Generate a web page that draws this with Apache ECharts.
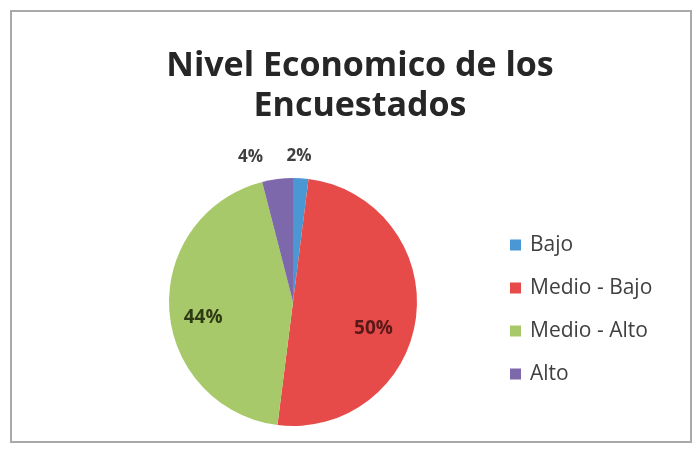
<!DOCTYPE html>
<html>
<head>
<meta charset="utf-8">
<script src="https://cdn.jsdelivr.net/npm/echarts@6/dist/echarts.min.js"></script>
<style>
  html, body { margin: 0; padding: 0; background: #ffffff; }
  #chart { width: 694px; height: 449px; }
</style>
</head>
<body>
<div id="chart"></div>
<script>
// Nivel económico de los encuestados (porcentaje por categoría)
const categories = ['Bajo', 'Medio - Bajo', 'Medio - Alto', 'Alto'];
const percentages = [2, 50, 44, 4];
const sliceColors = ['#4b97d4', '#e64b4a', '#a7c96a', '#7c68aa'];
const labelColors = ['#3f3f3f', '#5a1818', '#2e3a14', '#3f3f3f'];

// Small nudges so each percentage sits where the spreadsheet-style layout puts it
const labelNudges = [[-20, -10], [16, 18], [-25, 12], [-8, -10]];

const chart = echarts.init(document.getElementById('chart'), null, { renderer: 'canvas' });

const FONT = '"Open Sans", Lato, sans-serif';

chart.setOption({
  animation: false,
  backgroundColor: '#ffffff',
  graphic: [{
    type: 'rect',
    shape: { x: 11, y: 11, width: 680, height: 431 },
    style: { fill: 'none', stroke: '#a9a9a9', lineWidth: 2 },
    silent: true
  }],
  title: {
    text: 'Nivel Economico de los\nEncuestados',
    left: 355,
    top: 41,
    textAlign: 'center',
    textStyle: {
      fontFamily: FONT,
      fontWeight: 'bold',
      fontSize: 34,
      lineHeight: 40,
      color: '#262626'
    }
  },
  legend: {
    orient: 'vertical',
    left: 510,
    top: 234,
    padding: 0,
    icon: 'rect',
    itemWidth: 11,
    itemHeight: 11,
    itemGap: 21,
    data: categories,
    textStyle: {
      fontFamily: FONT,
      fontSize: 21,
      lineHeight: 22,
      padding: [0, 0, 0, 4],
      color: '#404040'
    }
  },
  series: [{
    type: 'pie',
    center: [293, 302],
    radius: 124,
    startAngle: 90,
    clockwise: true,
    avoidLabelOverlap: false,
    data: categories.map((name, i) => ({
      name,
      value: percentages[i],
      itemStyle: { color: sliceColors[i] },
      label: {
        position: (i === 0 || i === 3) ? 'outside' : 'inside',
        fontSize: (i === 0 || i === 3) ? 17 : 19,
        color: labelColors[i]
      },
      labelLine: { show: false, length: 12, length2: 0 }
    })),
    label: {
      formatter: p => p.value + '%',
      fontFamily: FONT,
      fontWeight: 'bold'
    },
    labelLayout: p => ({ dx: labelNudges[p.dataIndex][0], dy: labelNudges[p.dataIndex][1] }),
    itemStyle: { borderColor: '#ffffff', borderWidth: 0 }
  }]
});
</script>
</body>
</html>
